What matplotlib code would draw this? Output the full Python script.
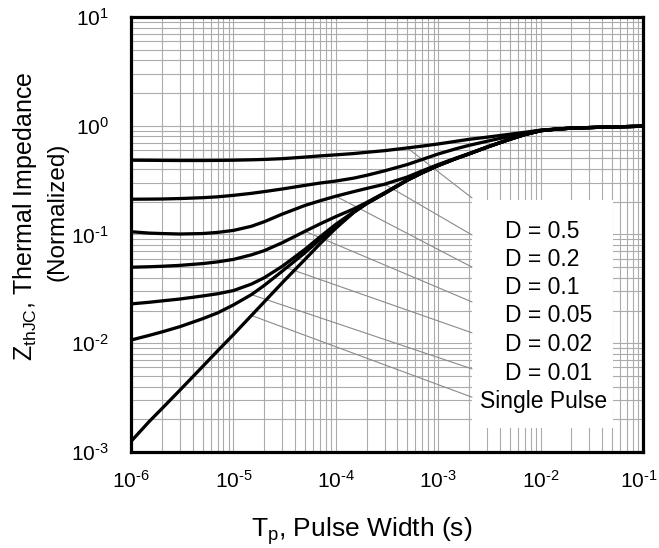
import matplotlib
matplotlib.use('Agg')
from matplotlib import pyplot as plt
from matplotlib.patches import Rectangle
from matplotlib.ticker import FixedLocator, LogLocator, NullFormatter
from matplotlib.transforms import ScaledTranslation

plt.rcParams['font.family'] = ['Liberation Sans', 'DejaVu Sans']
plt.rcParams['mathtext.fontset'] = 'custom'
plt.rcParams['mathtext.rm'] = 'Liberation Sans'
plt.rcParams['mathtext.it'] = 'Liberation Sans:italic'
plt.rcParams['mathtext.bf'] = 'Liberation Sans:bold'

# pulse width (s)
tp = [1e-6, 1.5e-6, 2e-6, 3e-6, 5e-6, 7e-6, 1e-5, 1.5e-5, 2e-5, 3e-5,
      5e-5, 7e-5, 1e-4, 1.5e-4, 2e-4, 3e-4, 5e-4, 7e-4, 1e-3, 1.5e-3,
      2e-3, 3e-3, 5e-3, 7e-3, 1e-2, 1.5e-2, 2e-2, 3e-2, 5e-2, 1e-1]

# normalized thermal impedance
z_d50 = [0.482, 0.481, 0.480, 0.479, 0.479, 0.480, 0.482, 0.486, 0.490, 0.498,
         0.515, 0.528, 0.540, 0.555, 0.570, 0.590, 0.625, 0.650, 0.680, 0.720,
         0.750, 0.785, 0.835, 0.870, 0.910, 0.935, 0.950, 0.962, 0.975, 0.990]
z_d20 = [0.211, 0.2115, 0.212, 0.214, 0.218, 0.222, 0.229, 0.239, 0.248, 0.262,
         0.283, 0.297, 0.310, 0.330, 0.350, 0.385, 0.440, 0.490, 0.550, 0.615,
         0.660, 0.720, 0.800, 0.855, 0.910, 0.935, 0.950, 0.962, 0.975, 0.990]
z_d10 = [0.106, 0.103, 0.102, 0.101, 0.102, 0.1045, 0.109, 0.119, 0.131, 0.154,
         0.185, 0.204, 0.225, 0.248, 0.265, 0.290, 0.338, 0.385, 0.440, 0.505,
         0.555, 0.638, 0.752, 0.830, 0.902, 0.935, 0.950, 0.962, 0.975, 0.990]
z_d05 = [0.050, 0.0505, 0.051, 0.052, 0.054, 0.056, 0.059, 0.065, 0.071, 0.084,
         0.107, 0.125, 0.146, 0.172, 0.197, 0.242, 0.318, 0.372, 0.432, 0.500,
         0.552, 0.636, 0.750, 0.829, 0.900, 0.935, 0.950, 0.962, 0.975, 0.990]
z_d02 = [0.023, 0.0238, 0.0245, 0.0255, 0.0272, 0.0285, 0.0305, 0.035, 0.040, 0.051,
         0.073, 0.095, 0.124, 0.162, 0.194, 0.240, 0.317, 0.371, 0.431, 0.500,
         0.551, 0.635, 0.750, 0.829, 0.900, 0.935, 0.950, 0.962, 0.975, 0.990]
z_d01 = [0.0107, 0.0118, 0.0127, 0.0142, 0.0168, 0.019, 0.0225, 0.028, 0.034, 0.046,
         0.068, 0.090, 0.118, 0.160, 0.193, 0.239, 0.316, 0.370, 0.430, 0.500,
         0.550, 0.635, 0.750, 0.828, 0.900, 0.935, 0.950, 0.962, 0.975, 0.990]
z_single = [0.00125, 0.0019, 0.0025, 0.0037, 0.0061, 0.0085, 0.012, 0.018, 0.024, 0.036,
            0.059, 0.082, 0.114, 0.160, 0.192, 0.238, 0.315, 0.369, 0.430, 0.500,
            0.550, 0.635, 0.750, 0.828, 0.900, 0.935, 0.950, 0.962, 0.975, 0.990]

curves = [z_d50, z_d20, z_d10, z_d05, z_d02, z_d01, z_single]
labels = ['D = 0.5', 'D = 0.2', 'D = 0.1', 'D = 0.05', 'D = 0.02', 'D = 0.01', 'Single Pulse']

# where each thin leader line starts: (curve, index into tp)
leaders = [(z_d50, 16), (z_d10, 15), (z_d10, 12), (z_d05, 10),
           (z_d02, 9), (z_d01, 7), (z_single, 7)]

x_ticks = [1e-6, 1e-5, 1e-4, 1e-3, 1e-2, 1e-1]
x_tick_labels = ['10$^{\\mathregular{\u20106}}$', '10$^{\\mathregular{\u20105}}$',
                 '10$^{\\mathregular{\u20104}}$', '10$^{\\mathregular{\u20103}}$',
                 '10$^{\\mathregular{\u20102}}$', '10$^{\\mathregular{\u20101}}$']
y_ticks = [1e-3, 1e-2, 1e-1, 1e0, 1e1]
y_tick_labels = ['10$^{\\mathregular{\u20103}}$', '10$^{\\mathregular{\u20102}}$',
                 '10$^{\\mathregular{\u20101}}$', '10$^{\\mathregular{0}}$',
                 '10$^{\\mathregular{1}}$']

fig = plt.figure(figsize=(6.59, 5.48), dpi=100)
ax = fig.add_axes([0.1988, 0.1752, 0.7769, 0.7938])

for z in curves:
    ax.plot(tp, z, color='black', lw=2.35, zorder=4,
            solid_joinstyle='round', solid_capstyle='butt')

ax.set_xscale('log')
ax.set_yscale('log')
ax.set_xlim(1e-6, 1e-1)
ax.set_ylim(1e-3, 1e1)

ax.xaxis.set_major_locator(FixedLocator(x_ticks))
ax.set_xticklabels(x_tick_labels)
ax.yaxis.set_major_locator(FixedLocator(y_ticks))
ax.set_yticklabels(y_tick_labels)
for axis in (ax.xaxis, ax.yaxis):
    axis.set_minor_locator(LogLocator(base=10, subs=range(2, 10), numticks=50))
    axis.set_minor_formatter(NullFormatter())

ax.tick_params(which='both', length=0)
ax.tick_params(axis='x', labelsize=15, pad=13)
ax.tick_params(axis='y', labelsize=15, pad=16)

# last x label sits right on the image edge, nudge it in a little
last = ax.get_xticklabels()[-1]
last.set_transform(last.get_transform() + ScaledTranslation(-3 / 72, 0, fig.dpi_scale_trans))

ax.set_axisbelow(True)
ax.grid(which='both', color='#ababab', lw=0.8)

for s in ax.spines.values():
    s.set_linewidth(2.3)
    s.set_color('black')
    s.set_zorder(6)

# white box behind the legend text
ax.add_patch(Rectangle((0.666, 0.055), 0.275, 0.524, transform=ax.transAxes,
                       facecolor='white', edgecolor='none', zorder=2))

leader_end = [0.584, 0.499, 0.425, 0.345, 0.274, 0.191, 0.126]
for (z, i), ye in zip(leaders, leader_end):
    ax.annotate('', xy=(tp[i], z[i]), xycoords='data',
                xytext=(0.666, ye), textcoords='axes fraction',
                arrowprops=dict(arrowstyle='-', color='#8a8a8a', lw=0.8,
                                shrinkA=0, shrinkB=0), zorder=3)

label_y = [0.508, 0.443, 0.377, 0.313, 0.248, 0.180, 0.115]
for lab, y in zip(labels, label_y):
    if lab == 'Single Pulse':
        ax.text(0.805, y, lab, transform=ax.transAxes, fontsize=16.5,
                ha='center', va='center', zorder=5)
    else:
        ax.text(0.730, y, lab, transform=ax.transAxes, fontsize=16.5,
                ha='left', va='center', zorder=5)

fig.text(362 / 659, (548 - 537) / 548, 'T$_{\\mathregular{p}}$, Pulse Width (s)',
         fontsize=19, ha='center', va='baseline')
fig.text(25 / 659, (548 - 216) / 548, 'Z$_{\\mathregular{thJC}}$, Thermal Impedance',
         fontsize=18, rotation=90, ha='center', va='center')
fig.text(57 / 659, (548 - 212) / 548, '(Normalized)',
         fontsize=17.5, rotation=90, ha='center', va='center')

fig.savefig('out.png', dpi=100)
